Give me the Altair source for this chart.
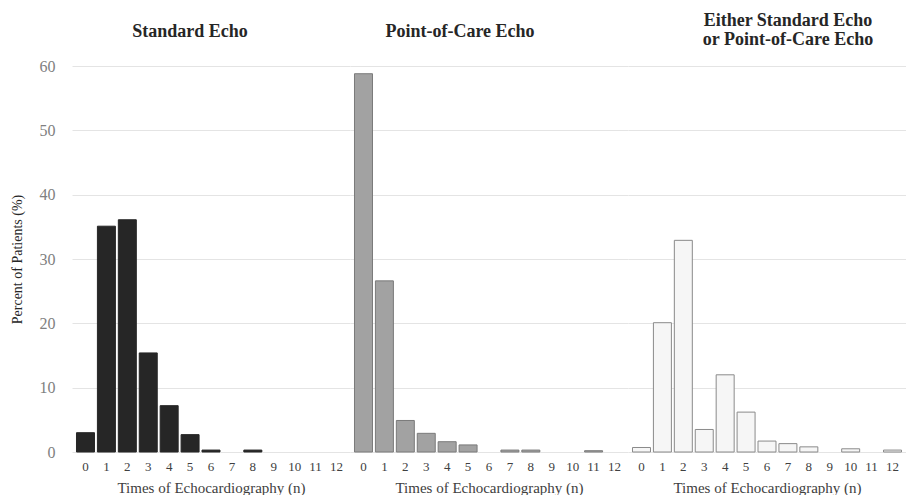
import altair as alt
import pandas as pd

# ---- data ----
categories = [str(i) for i in range(13)]
standard = [3.0, 35.1, 36.1, 15.4, 7.2, 2.7, 0.3, 0.0, 0.3, 0.0, 0.0, 0.0, 0.0]
point_of_care = [58.8, 26.6, 4.9, 2.9, 1.6, 1.1, 0.0, 0.3, 0.3, 0.0, 0.0, 0.2, 0.0]
either = [0.7, 20.1, 32.9, 3.5, 12.0, 6.2, 1.7, 1.3, 0.8, 0.0, 0.5, 0.0, 0.3]
y_ticks = [0, 10, 20, 30, 40, 50, 60]

panel_titles = [["Standard Echo"], ["Point-of-Care Echo"],
                ["Either Standard Echo", "or Point-of-Care Echo"]]
x_title = "Times of Echocardiography (n)"
y_title = "Percent of Patients (%)"

FONT = "Liberation Serif"
fills = ["#262626", "#a2a2a2", "#f6f6f6"]
strokes = ["#262626", "#7a7a7a", "#8a8a8a"]
# title placement in pixels relative to each panel's plot area
title_x = [118, 110, 160]
title_y = [[-29], [-29], [-40, -21]]
PW, PH = 278, 386


def panel(i, values):
    df = pd.DataFrame({"n": categories, "pct": values})
    first = i == 0
    if first:
        yaxis = alt.Axis(values=y_ticks, grid=True, gridColor="#e4e4e4",
                         domain=False, ticks=False, tickSize=0,
                         labelFont=FONT, labelFontSize=16, labelColor="#808080",
                         labelPadding=17, title=y_title, titleFont=FONT,
                         titleFontSize=14, titleFontWeight="normal",
                         titleColor="#262626", titlePadding=15)
    else:
        yaxis = alt.Axis(values=y_ticks, grid=True, gridColor="#e4e4e4",
                         domain=False, ticks=False, tickSize=0,
                         labels=False, title=None)
    xaxis = alt.Axis(labelAngle=0, ticks=False, tickSize=0, domain=False,
                     labelFont=FONT, labelFontSize=13, labelColor="#404040",
                     labelPadding=8, title=x_title, titleFont=FONT,
                     titleFontSize=15, titleFontWeight="normal",
                     titleColor="#404040", titlePadding=7)
    bars = (
        alt.Chart(df)
        .transform_filter("datum.pct > 0")
        .mark_bar(fill=fills[i], stroke=strokes[i], strokeWidth=1)
        .encode(
            x=alt.X("n:O", sort=None,
                    scale=alt.Scale(domain=categories, paddingInner=0.14,
                                    paddingOuter=0.215),
                    axis=xaxis),
            y=alt.Y("pct:Q", scale=alt.Scale(domain=[0, 60], nice=False),
                    axis=yaxis),
        )
    )
    layers = [bars]
    for line, ypix in zip(panel_titles[i], title_y[i]):
        layers.append(
            alt.Chart(pd.DataFrame({"t": [line]}))
            .mark_text(font=FONT, fontSize=18, fontWeight="bold",
                       color="#262626", align="center", baseline="alphabetic")
            .encode(text="t:N", x=alt.value(title_x[i]), y=alt.value(ypix))
        )
    return alt.layer(*layers).properties(width=PW, height=PH)


chart = (
    alt.hconcat(panel(0, standard), panel(1, point_of_care), panel(2, either),
                spacing=0)
    .properties(padding={"left": 2, "top": 4, "right": 0, "bottom": 0})
    .configure(background="white")
    .configure_view(stroke="transparent", strokeWidth=0)
    .configure_axis(labelFont=FONT, titleFont=FONT)
)

chart.save("out.html", embed_options={"renderer": "svg", "actions": False})
